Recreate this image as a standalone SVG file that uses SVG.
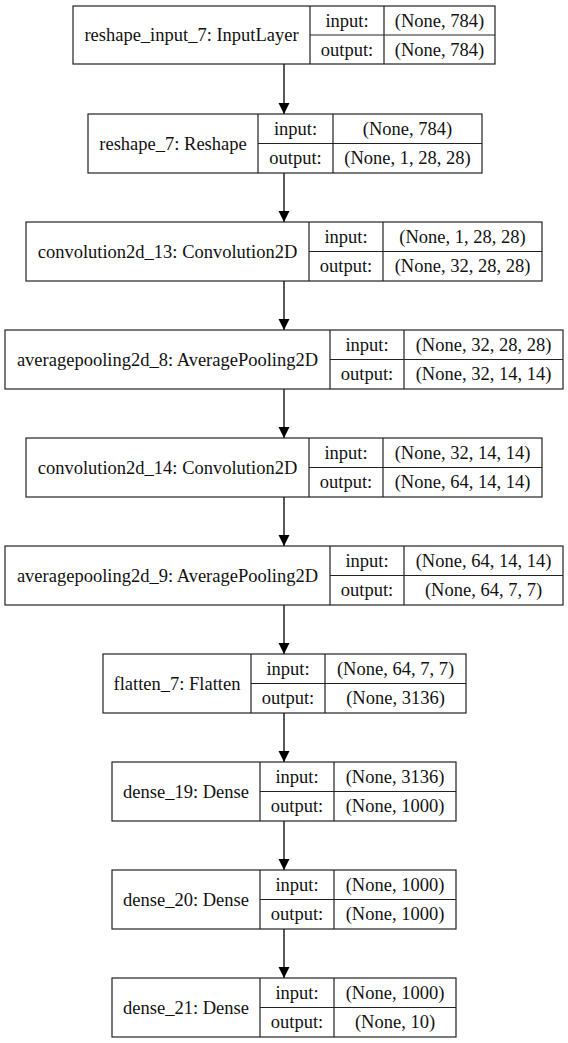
<svg xmlns="http://www.w3.org/2000/svg" width="568" height="1043" viewBox="0 0 568 1043">
<style>
rect{fill:#fff;stroke:#222;stroke-width:1.2}
.l{stroke:#222;stroke-width:1.2;fill:none}
text{font-family:"Liberation Serif","Times New Roman",serif;font-size:18.5px;fill:#111;text-anchor:middle}
.c{stroke:#000;stroke-width:1.3;fill:none}
</style>
<defs>
<marker id="ah" markerUnits="userSpaceOnUse" markerWidth="12" markerHeight="12" refX="11" refY="5.5" orient="auto">
<path d="M0,0 L11,5.5 L0,11 Z" fill="#000"/>
</marker>
</defs>
<g id="connectors">
<line class="c" x1="284" y1="64" x2="284" y2="114" marker-end="url(#ah)"/>
<line class="c" x1="284" y1="173" x2="284" y2="222" marker-end="url(#ah)"/>
<line class="c" x1="284" y1="281" x2="284" y2="330" marker-end="url(#ah)"/>
<line class="c" x1="284" y1="389" x2="284" y2="438" marker-end="url(#ah)"/>
<line class="c" x1="284" y1="497" x2="284" y2="546" marker-end="url(#ah)"/>
<line class="c" x1="284" y1="605" x2="284" y2="654" marker-end="url(#ah)"/>
<line class="c" x1="284" y1="713" x2="284" y2="762" marker-end="url(#ah)"/>
<line class="c" x1="284" y1="821" x2="284" y2="870" marker-end="url(#ah)"/>
<line class="c" x1="284" y1="929" x2="284" y2="978" marker-end="url(#ah)"/>
</g>
<g id="node1">
<rect x="73" y="6" width="422" height="58"/>
<path class="l" d="M310,6V64M384,6V64M310,35H495"/>
<text x="191.5" y="41">reshape_input_7: InputLayer</text>
<text x="347" y="26.5">input:</text><text x="347" y="55.5">output:</text>
<text x="439.5" y="26.5">(None, 784)</text><text x="439.5" y="55.5">(None, 784)</text>
</g>
<g id="node2">
<rect x="88" y="114" width="394" height="59"/>
<path class="l" d="M258,114V173M333,114V173M258,143.5H482"/>
<text x="173" y="149.5">reshape_7: Reshape</text>
<text x="295.5" y="134.8">input:</text><text x="295.5" y="164.3">output:</text>
<text x="407.5" y="134.8">(None, 784)</text><text x="407.5" y="164.3">(None, 1, 28, 28)</text>
</g>
<g id="node3">
<rect x="26" y="222" width="516" height="59"/>
<path class="l" d="M309,222V281M383,222V281M309,251.5H542"/>
<text x="167.5" y="257.5">convolution2d_13: Convolution2D</text>
<text x="346" y="242.8">input:</text><text x="346" y="272.3">output:</text>
<text x="462.5" y="242.8">(None, 1, 28, 28)</text><text x="462.5" y="272.3">(None, 32, 28, 28)</text>
</g>
<g id="node4">
<rect x="5" y="330" width="558" height="59"/>
<path class="l" d="M330,330V389M404,330V389M330,359.5H563"/>
<text x="167.5" y="365.5">averagepooling2d_8: AveragePooling2D</text>
<text x="367" y="350.8">input:</text><text x="367" y="380.3">output:</text>
<text x="483.5" y="350.8">(None, 32, 28, 28)</text><text x="483.5" y="380.3">(None, 32, 14, 14)</text>
</g>
<g id="node5">
<rect x="26" y="438" width="516" height="59"/>
<path class="l" d="M309,438V497M383,438V497M309,467.5H542"/>
<text x="167.5" y="473.5">convolution2d_14: Convolution2D</text>
<text x="346" y="458.8">input:</text><text x="346" y="488.3">output:</text>
<text x="462.5" y="458.8">(None, 32, 14, 14)</text><text x="462.5" y="488.3">(None, 64, 14, 14)</text>
</g>
<g id="node6">
<rect x="5" y="546" width="558" height="59"/>
<path class="l" d="M330,546V605M404,546V605M330,575.5H563"/>
<text x="167.5" y="581.5">averagepooling2d_9: AveragePooling2D</text>
<text x="367" y="566.8">input:</text><text x="367" y="596.3">output:</text>
<text x="483.5" y="566.8">(None, 64, 14, 14)</text><text x="483.5" y="596.3">(None, 64, 7, 7)</text>
</g>
<g id="node7">
<rect x="103" y="654" width="363" height="59"/>
<path class="l" d="M251,654V713M325,654V713M251,683.5H466"/>
<text x="177" y="689.5">flatten_7: Flatten</text>
<text x="288" y="674.8">input:</text><text x="288" y="704.3">output:</text>
<text x="395.5" y="674.8">(None, 64, 7, 7)</text><text x="395.5" y="704.3">(None, 3136)</text>
</g>
<g id="node8">
<rect x="112" y="762" width="344" height="59"/>
<path class="l" d="M260,762V821M334,762V821M260,791.5H456"/>
<text x="186" y="797.5">dense_19: Dense</text>
<text x="297" y="782.8">input:</text><text x="297" y="812.3">output:</text>
<text x="395" y="782.8">(None, 3136)</text><text x="395" y="812.3">(None, 1000)</text>
</g>
<g id="node9">
<rect x="112" y="870" width="344" height="59"/>
<path class="l" d="M260,870V929M334,870V929M260,899.5H456"/>
<text x="186" y="905.5">dense_20: Dense</text>
<text x="297" y="890.8">input:</text><text x="297" y="920.3">output:</text>
<text x="395" y="890.8">(None, 1000)</text><text x="395" y="920.3">(None, 1000)</text>
</g>
<g id="node10">
<rect x="112" y="978" width="344" height="59"/>
<path class="l" d="M260,978V1037M334,978V1037M260,1007.5H456"/>
<text x="186" y="1013.5">dense_21: Dense</text>
<text x="297" y="998.8">input:</text><text x="297" y="1028.3">output:</text>
<text x="395" y="998.8">(None, 1000)</text><text x="395" y="1028.3">(None, 10)</text>
</g>
</svg>
